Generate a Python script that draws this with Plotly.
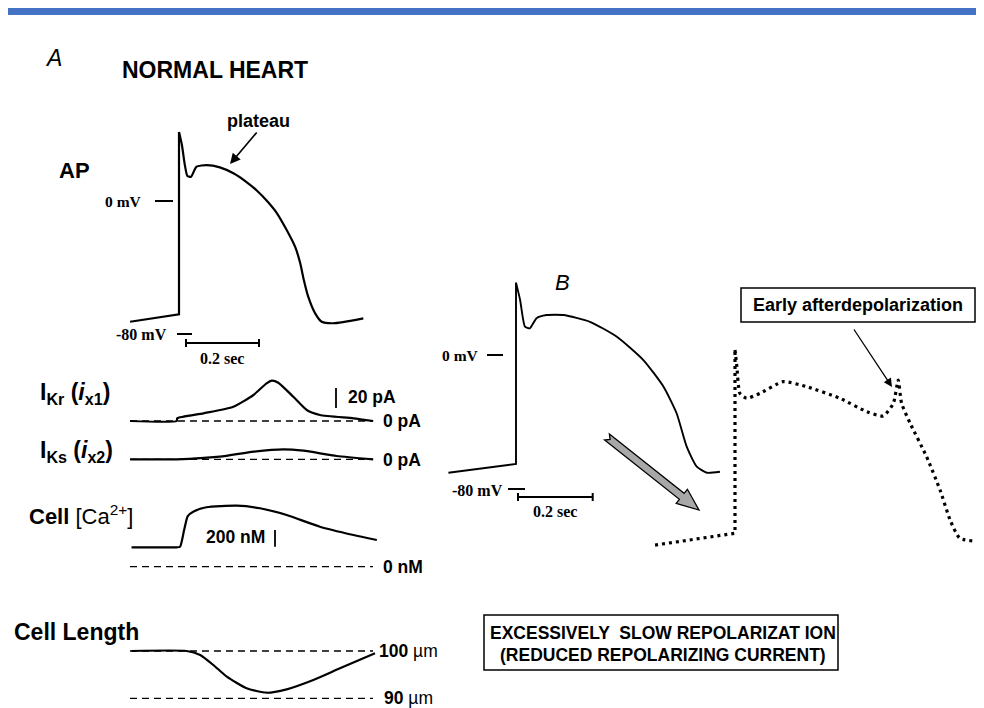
import plotly.graph_objects as go

# page body has an 8px margin: figure is drawn at screen offset (8, 8)
OFF = 8
SW, SH = 984, 708           # screen size
W, H = SW - OFF, SH - OFF   # figure size
SANS = "Liberation Sans, Arial, sans-serif"
SERIF = "Liberation Serif, Times New Roman, serif"

# ---------------- data (physical units) ----------------
# Panel A: normal action potential (time s, mV)
ap_a_t = [-0.134, 0.0, 0.0, 0.008, 0.016, 0.023, 0.033, 0.048, 0.076, 0.112, 0.149, 0.185,
          0.213, 0.240, 0.268, 0.295, 0.318, 0.332, 0.342, 0.354, 0.373, 0.391, 0.423, 0.505]
ap_a_mv = [-73.2, -68.7, 41.8, 33.9, 21.8, 15.2, 14.7, 20.8, 21.8, 20.4, 16.8, 11.5,
           6.4, 0.3, -7.3, -17.6, -27.7, -37.6, -47.9, -58.0, -68.1, -73.2, -74.1, -71.1]

# IKr current (pA)
ikr_t = [-0.134, -0.006, -0.005, 0.067, 0.149, 0.204, 0.240, 0.254, 0.272, 0.313, 0.350,
         0.386, 0.478, 0.532]
ikr_pa = [0, 0, 2.7, 7.7, 14.3, 26, 37.7, 40.3, 38.3, 24.3, 11, 6, 2.7, 0]

# IKs current (pA)
iks_t = [-0.134, -0.006, 0.112, 0.204, 0.286, 0.341, 0.432, 0.532]
iks_pa = [0, 0, 2.6, 7.6, 10, 8.6, 3.3, 0]

# Cell calcium (nM)
ca_t = [-0.130, -0.006, 0.003, 0.014, 0.024, 0.039, 0.075, 0.158, 0.222, 0.295, 0.386,
        0.478, 0.542]
ca_nm = [233, 233, 240, 440, 608, 660, 713, 732, 701, 620, 480, 380, 320]

# Cell length (um)
len_t = [-0.130, 0.021, 0.058, 0.094, 0.131, 0.185, 0.240, 0.295, 0.368, 0.441, 0.537]
len_um = [100, 100, 99.15, 97.04, 94.57, 92.12, 91.18, 91.90, 93.87, 96.34, 99.51]

# Panel B: action potential with slow repolarization
ap_b_t = [-0.181, 0.0, 0.0, 0.011, 0.024, 0.037, 0.055, 0.082, 0.127, 0.198, 0.270, 0.341,
          0.395, 0.430, 0.457, 0.484, 0.511, 0.546]
ap_b_mv = [-70.1, -64.9, 43.1, 32.8, 16.9, 15.9, 21.9, 23.8, 23.8, 19.8, 10.9, -3.0,
           -18.9, -34.7, -54.6, -66.5, -70.1, -69.5]

# Early afterdepolarization trace (dotted)
ead_t = [-0.214, 0.0, 0.0, 0.005, 0.013, 0.031, 0.067, 0.129, 0.192, 0.281, 0.353, 0.397,
         0.424, 0.437, 0.446, 0.469, 0.513, 0.549, 0.576, 0.602, 0.665]
ead_mv = [-72.1, -65.1, 44.1, 34.1, 18.3, 15.3, 18.3, 25.2, 22.2, 15.3, 7.3, 4.8,
          12.3, 26.2, 12.3, 0.4, -19.5, -39.3, -57.2, -68.1, -70.1]

# ---------------- figure ----------------
fig = go.Figure()


def xr(px0, pps):
    # px0: screen x of value 0, pps: screen pixels per unit
    return [(OFF - px0) / pps, (SW - px0) / pps]


def yr(py0, pps, v0=0.0):
    return [v0 + (py0 - SH) / pps, v0 + (py0 - OFF) / pps]


hidden = dict(visible=False, showgrid=False, zeroline=False, fixedrange=True, domain=[0, 1])

layout_axes = dict(
    xaxis=dict(range=[OFF, SW], **hidden),
    yaxis=dict(range=[SH, OFF], **hidden),
    xaxis2=dict(range=xr(179, 365), overlaying="x", **hidden),
    xaxis3=dict(range=xr(516, 373.5), overlaying="x", **hidden),
    xaxis4=dict(range=xr(735, 373.5), overlaying="x", **hidden),
    yaxis2=dict(range=yr(201, 1.65), overlaying="y", **hidden),
    yaxis3=dict(range=yr(421, 1.0), overlaying="y", **hidden),
    yaxis4=dict(range=yr(459.3, 1.0), overlaying="y", **hidden),
    yaxis5=dict(range=yr(566.7, 1 / 12.0), overlaying="y", **hidden),
    yaxis6=dict(range=yr(651, 4.73, 100.0), overlaying="y", **hidden),
    yaxis7=dict(range=yr(355, 1.679), overlaying="y", **hidden),
    yaxis8=dict(range=yr(424, 1.679), overlaying="y", **hidden),
)


def sline(width=2.2, dash=None, shape="spline"):
    d = dict(color="black", width=width, shape=shape)
    if shape == "spline":
        d["smoothing"] = 0.55
    if dash:
        d["dash"] = dash
    return d


def add(x, y, xa, ya, line):
    fig.add_trace(go.Scatter(x=x, y=y, mode="lines", line=line, xaxis=xa, yaxis=ya,
                             showlegend=False, hoverinfo="skip"))


fig.add_trace(go.Scatter(x=[OFF, SW], y=[SH, OFF], mode="none", xaxis="x", yaxis="y",
                         showlegend=False, hoverinfo="skip"))

# action potentials: resting segment + upstroke straight, rest smooth
add(ap_a_t[:3], ap_a_mv[:3], "x2", "y2", sline(2.2, shape="linear"))
add(ap_a_t[2:], ap_a_mv[2:], "x2", "y2", sline(2.2))
add(ikr_t, ikr_pa, "x2", "y3", sline(2.2))
add(iks_t, iks_pa, "x2", "y4", sline(2.2))
add(ca_t, ca_nm, "x2", "y5", sline(2.2))
add(len_t, len_um, "x2", "y6", sline(2.2))
add(ap_b_t[:3], ap_b_mv[:3], "x3", "y7", sline(1.9, shape="linear"))
add(ap_b_t[2:], ap_b_mv[2:], "x3", "y7", sline(1.9))
add(ead_t[:3], ead_mv[:3], "x4", "y8", sline(3.2, dash="3px,4px", shape="linear"))
add(ead_t[2:], ead_mv[2:], "x4", "y8", sline(3.2, dash="3px,4px"))

shapes = []
annots = []


def line(x0, y0, x1, y1, w=2.0, xref="x", yref="y", dash=None):
    d = dict(type="line", x0=x0, y0=y0, x1=x1, y1=y1, xref=xref, yref=yref,
             line=dict(color="black", width=w))
    if dash:
        d["line"]["dash"] = dash
    shapes.append(d)


def txt(x, y, s, size, family=SANS, xanchor="center"):
    annots.append(dict(x=x, y=y, xref="x", yref="y", text=s, showarrow=False,
                       xanchor=xanchor, yanchor="middle",
                       font=dict(family=family, size=size, color="black")))


def arrow(x, y, ax, ay, w):
    annots.append(dict(x=x, y=y, ax=ax, ay=ay, xref="x", yref="y", axref="x", ayref="y",
                       text="", showarrow=True, arrowhead=2, arrowsize=1.3, arrowwidth=w,
                       arrowcolor="black"))


# top blue bar
shapes.append(dict(type="rect", x0=3, x1=SW + 2, y0=6, y1=15, xref="x", yref="y",
                   fillcolor="#4472C4", line=dict(width=0)))

# Panel A headings
txt(53, 58, "<i>A</i>", 23)
txt(215, 70, "<b>NORMAL HEART</b>", 23)
txt(74, 170, "<b>AP</b>", 22)
txt(258, 121, "<b>plateau</b>", 18)
arrow(230, 164, 258, 131, 1.6)

# AP A voltage marks
txt(144, 201, "<b>0 mV</b>", 15.5, family=SERIF, xanchor="right")
line(155, 201, 173, 201, 2)
txt(169, 334, "<b>-80 mV</b>", 16, family=SERIF, xanchor="right")
line(177, 334, 192, 334, 2)
t0 = (186 - 179) / 365
line(t0, 343, t0 + 0.2, 343, 2.2, xref="x2")
for tt in (t0, t0 + 0.2):
    line(tt, 339, tt, 347, 2, xref="x2")
txt(222, 358, "<b>0.2 sec</b>", 16, family=SERIF)

# current traces
tA0, tA1 = (130 - 179) / 365, (373 - 179) / 365
dash = "7px,5px"
txt(38, 393, "<b>I<sub>Kr</sub> (<i>i</i><sub>x1</sub>)</b>", 23, xanchor="left")
line(tA0, 0, tA1, 0, 1.3, xref="x2", yref="y3", dash=dash)
txt(381, 421, "<b>0 pA</b>", 17.5, xanchor="left")
line(336, 13, 336, 33, 1.8, yref="y3")
txt(346, 397, "<b>20 pA</b>", 17.5, xanchor="left")

txt(38, 451, "<b>I<sub>Ks</sub> (<i>i</i><sub>x2</sub>)</b>", 23, xanchor="left")
line(tA0, 0, tA1, 0, 1.3, xref="x2", yref="y4", dash=dash)
txt(381, 460, "<b>0 pA</b>", 17.5, xanchor="left")

# calcium
txt(27, 515, "<b>Cell</b> [Ca<sup>2+</sup>]", 22, xanchor="left")
line(tA0, 0, tA1, 0, 1.3, xref="x2", yref="y5", dash=dash)
txt(381, 567, "<b>0 nM</b>", 17.5, xanchor="left")
line(275, 240, 275, 440, 1.8, yref="y5")
txt(235, 537, "<b>200 nM</b>", 17.5)

# cell length
txt(12, 632, "<b>Cell Length</b>", 23, xanchor="left")
for v in (100, 90):
    line(tA0, v, tA1, v, 1.3, xref="x2", yref="y6", dash=dash)
txt(377, 651, "<b>100</b> µm", 17.5, xanchor="left")
txt(382, 698, "<b>90</b> µm", 17.5, xanchor="left")

# Panel B
txt(562, 282, "<i>B</i>", 22)
txt(481, 355, "<b>0 mV</b>", 15.5, family=SERIF, xanchor="right")
line(487, 355, 503, 355, 2)
txt(505, 490, "<b>-80 mV</b>", 16, family=SERIF, xanchor="right")
line(508, 489, 525, 489, 2)
tB0 = (518 - 516) / 373.5
line(tB0, 497, tB0 + 0.2, 497, 2.2, xref="x3")
for tt in (tB0, tB0 + 0.2):
    line(tt, 493, tt, 501, 2, xref="x3")
txt(555, 511, "<b>0.2 sec</b>", 16, family=SERIF)

# grey block arrow
T = (607.0, 437.0)
Hd = (699.0, 510.0)
dx, dy = Hd[0] - T[0], Hd[1] - T[1]
L = (dx * dx + dy * dy) ** 0.5
ux, uy = dx / L, dy / L
nx, ny = -uy, ux
hw, hh, hl, notch = 3.8, 9.0, 22.0, 4.0
Bx, By = Hd[0] - hl * ux, Hd[1] - hl * uy
pts = [
    (T[0] + hw * nx, T[1] + hw * ny),
    (Bx + hw * nx, By + hw * ny),
    (Bx + hh * nx, By + hh * ny),
    Hd,
    (Bx - hh * nx, By - hh * ny),
    (Bx - hw * nx, By - hw * ny),
    (T[0] - hw * nx, T[1] - hw * ny),
    (T[0] + notch * ux, T[1] + notch * uy),
]
path = "M " + " L ".join(f"{px:.1f},{py:.1f}" for px, py in pts) + " Z"
shapes.append(dict(type="path", path=path, xref="x", yref="y", fillcolor="#a8a8a8",
                   line=dict(color="black", width=1.3)))

# Early afterdepolarization label
shapes.append(dict(type="rect", x0=741, x1=975, y0=288, y1=322, xref="x", yref="y",
                   line=dict(color="black", width=1.5)))
txt(858, 305, "<b>Early afterdepolarization</b>", 18)
arrow(892, 387, 853, 328, 1.3)

# bottom box
shapes.append(dict(type="rect", x0=484, x1=838, y0=615, y1=670, xref="x", yref="y",
                   line=dict(color="black", width=1.5)))
txt(663, 633, "<b>EXCESSIVELY  SLOW REPOLARIZAT ION</b>", 17.5)
txt(663, 655, "<b>(REDUCED REPOLARIZING CURRENT)</b>", 17.5)

fig.update_layout(
    width=W, height=H,
    margin=dict(l=0, r=0, t=0, b=0),
    paper_bgcolor="white", plot_bgcolor="white",
    showlegend=False,
    shapes=shapes, annotations=annots,
    **layout_axes,
)

fig.write_html("out.html")
